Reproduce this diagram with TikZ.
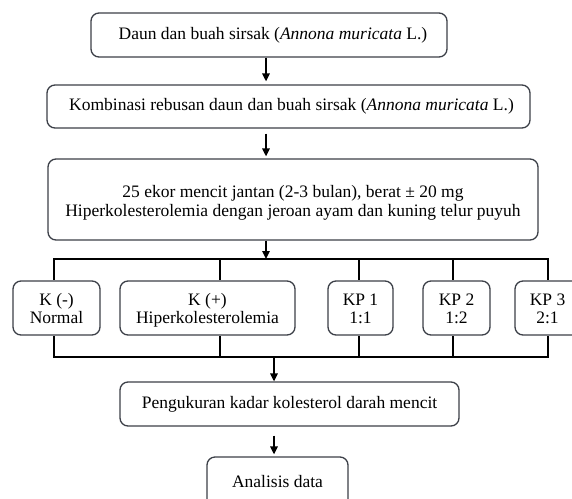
\documentclass[tikz,border=0pt]{standalone}
\usepackage{fontspec}
\setmainfont{Liberation Serif}
\usetikzlibrary{arrows.meta}
\definecolor{boxline}{HTML}{3C4048}
\newcommand{\lowtxt}[2]{\raisebox{#1}[\height][\depth]{\begin{tabular}{@{}c@{}}#2\end{tabular}}}
\tikzset{
  box/.style={draw=boxline, line width=1.3pt, rounded corners=8pt, fill=white,
    align=center, inner sep=0pt, font=\fontsize{17.5}{18.5}\selectfont},
  wire/.style={line width=1.6pt, black},
  arr/.style={wire, -{Triangle[length=8pt,width=7.5pt]}}
}
\begin{document}
\begin{tikzpicture}[x=1pt,y=-1pt]
\useasboundingbox (0,0) rectangle (572,498);
\clip (0,0) rectangle (572,498);
\fill[white] (0,0) rectangle (572,498);
% top boxes
\node[box, minimum width=356pt, minimum height=44pt] (b1) at (269,35)
  {\hspace*{8pt}Daun dan buah sirsak (\textit{Annona muricata} L.)};
\node[box, minimum width=483pt, minimum height=43pt] (b2) at (288.5,106.5)
  {\hspace*{6pt}Kombinasi rebusan daun dan buah sirsak (\textit{Annona muricata} L.)};
\node[box, minimum width=490pt, minimum height=81pt] (b3) at (293,199.5)
  {\lowtxt{-4pt}{25 ekor mencit jantan (2-3 bulan), berat ± 20 mg\\
   Hiperkolesterolemia dengan jeroan ayam dan kuning telur puyuh}};
% group boxes
\node[box, minimum width=87pt, minimum height=54pt] (km) at (56.5,308) {\lowtxt{-3pt}{K (-)\\Normal}};
\node[box, minimum width=175pt, minimum height=54pt] (kp) at (207.5,308) {\lowtxt{-3pt}{K (+)\\Hiperkolesterolemia}};
\node[box, minimum width=65pt, minimum height=54pt] (p1) at (360.5,308) {\lowtxt{-3pt}{KP 1\\1:1}};
\node[box, minimum width=67pt, minimum height=54pt] (p2) at (456.5,308) {\lowtxt{-3pt}{KP 2\\1:2}};
\node[box, minimum width=65pt, minimum height=54pt] (p3) at (547.5,308) {\lowtxt{-3pt}{KP 3\\2:1}};
% bottom boxes
\node[box, minimum width=339pt, minimum height=44pt] (b4) at (289.5,404)
  {Pengukuran kadar kolesterol darah mencit};
\node[box, minimum width=141pt, minimum height=50pt] (b5) at (277.5,482)
  {\raisebox{2pt}{Analisis data}};
% coordinates
\coordinate (ax) at (266,0);
\coordinate (d1) at (54,259);
\coordinate (d2) at (220,259);
\coordinate (d3) at (359,259);
\coordinate (d4) at (453,259);
\coordinate (d5) at (548,259);
\coordinate (e1) at (54,357);
\coordinate (e2) at (220,357);
\coordinate (e3) at (359,357);
\coordinate (e4) at (453,357);
\coordinate (e5) at (548,357);
\coordinate (a4) at (274,357);
% connectors
\draw[arr, shorten >=3pt] (b1.south -| ax) -- (b2.north -| ax);
\draw[arr, shorten <=5pt, shorten >=2pt] (b2.south -| ax) -- (b3.north -| ax);
\draw[arr] (b3.south -| ax) -- (d1 -| ax);
\draw[wire, line cap=rect] (d1) -- (d5);
\draw[wire] (d1) -- (d1 |- km.north);
\draw[wire] (d2) -- (d2 |- kp.north);
\draw[wire] (d3) -- (d3 |- p1.north);
\draw[wire] (d4) -- (d4 |- p2.north);
\draw[wire] (d5) -- (d5 |- p3.north);
\draw[wire, line cap=rect] (e1) -- (e5);
\draw[wire] (e1) -- (e1 |- km.south);
\draw[wire] (e2) -- (e2 |- kp.south);
\draw[wire] (e3) -- (e3 |- p1.south);
\draw[wire] (e4) -- (e4 |- p2.south);
\draw[wire] (e5) -- (e5 |- p3.south);
\draw[arr] (a4) -- (a4 |- b4.north);
\draw[arr, shorten <=9pt, shorten >=2pt] (b4.south -| a4) -- (b5.north -| a4);
\end{tikzpicture}
\end{document}
